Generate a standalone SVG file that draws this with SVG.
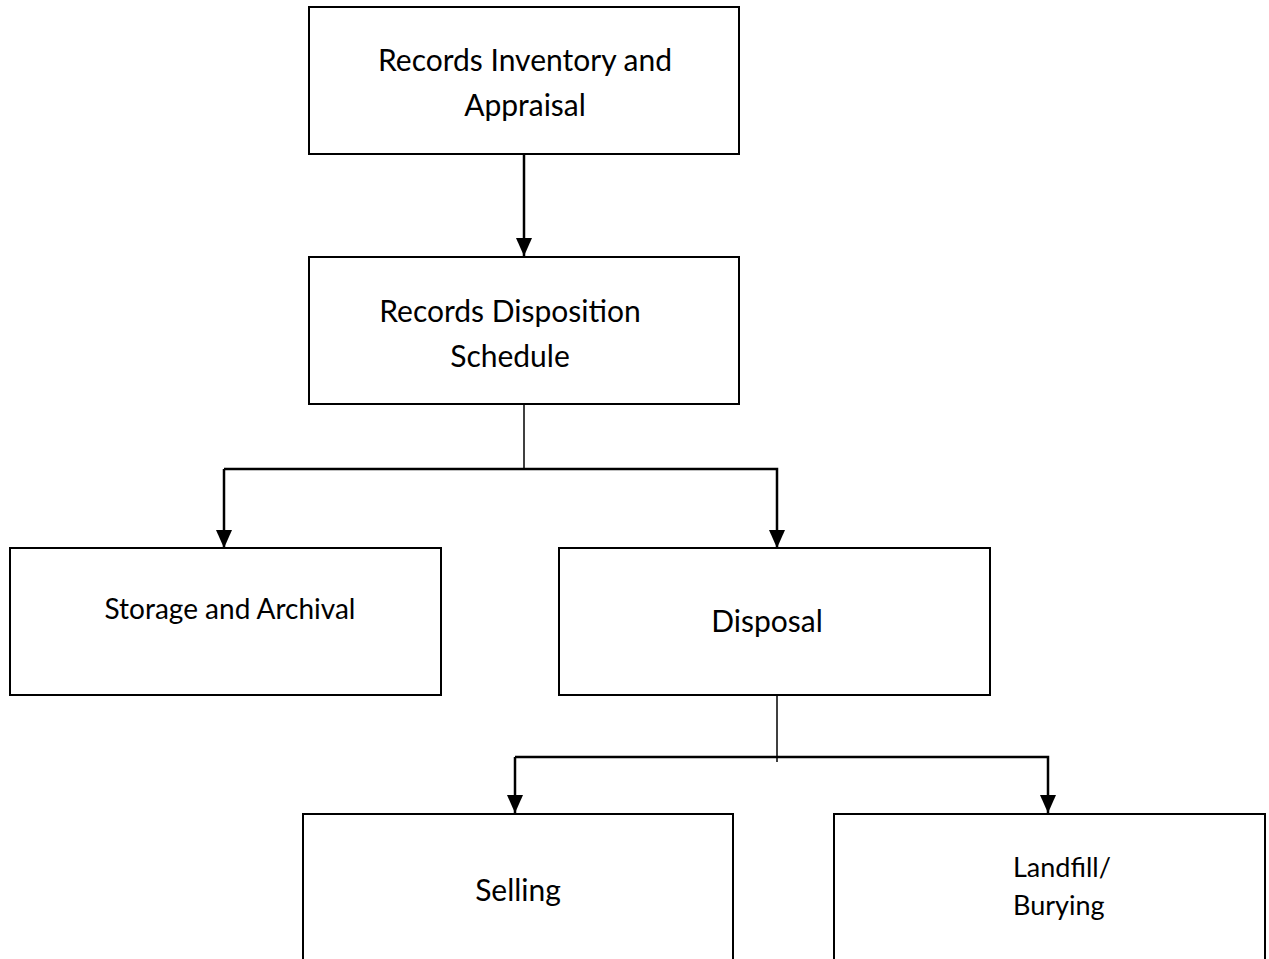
<svg xmlns="http://www.w3.org/2000/svg" width="1269" height="959" viewBox="0 0 1269 959">
<defs>
<style>
.box{fill:#fff;stroke:#000;stroke-width:2}
.t{font-family:Lato,"Open Sans",sans-serif;font-size:30px;fill:#000}
.c{text-anchor:middle}
.ln{fill:none;stroke:#000;stroke-width:2.5}
.stem{fill:none;stroke:#000;stroke-width:1.5}
</style>
<marker id="ah" markerUnits="userSpaceOnUse" markerWidth="18" markerHeight="16" refX="18" refY="8" orient="auto" viewBox="0 0 18 16">
<path d="M0,0 L18,8 L0,16 Z" fill="#000"/>
</marker>
</defs>
<rect width="1269" height="959" fill="#fff"/>
<g id="connectors">
<line class="ln" x1="524" y1="155" x2="524" y2="256" marker-end="url(#ah)"/>
<line class="stem" x1="524" y1="404" x2="524" y2="469"/>
<polyline class="ln" points="224,469 777,469 777,548" marker-end="url(#ah)"/>
<line class="ln" x1="224" y1="469" x2="224" y2="548" marker-end="url(#ah)"/>
<line class="stem" x1="777" y1="695" x2="777" y2="762"/>
<polyline class="ln" points="515,757 1048,757 1048,813" marker-end="url(#ah)"/>
<line class="ln" x1="515" y1="757" x2="515" y2="813" marker-end="url(#ah)"/>
</g>
<g id="n1"><rect class="box" x="309" y="7" width="430" height="147"/>
<text class="t c" x="525" y="71">Records Inventory and</text>
<text class="t c" x="525" y="116">Appraisal</text></g>
<g id="n2"><rect class="box" x="309" y="257" width="430" height="147"/>
<text class="t c" x="510" y="322">Records Disposition</text>
<text class="t c" x="510" y="367">Schedule</text></g>
<g id="n3"><rect class="box" x="10" y="548" width="431" height="147"/>
<text class="t c" x="230" y="619" style="font-size:28px">Storage and Archival</text></g>
<g id="n4"><rect class="box" x="559" y="548" width="431" height="147"/>
<text class="t c" x="767" y="632">Disposal</text></g>
<g id="n5"><rect class="box" x="303" y="814" width="430" height="160"/>
<text class="t c" x="518" y="901">Selling</text></g>
<g id="n6"><rect class="box" x="834" y="814" width="431" height="160"/>
<text class="t" x="1013" y="877" style="font-size:27px">Landfill/</text>
<text class="t" x="1013" y="915" style="font-size:27px">Burying</text></g>
</svg>
